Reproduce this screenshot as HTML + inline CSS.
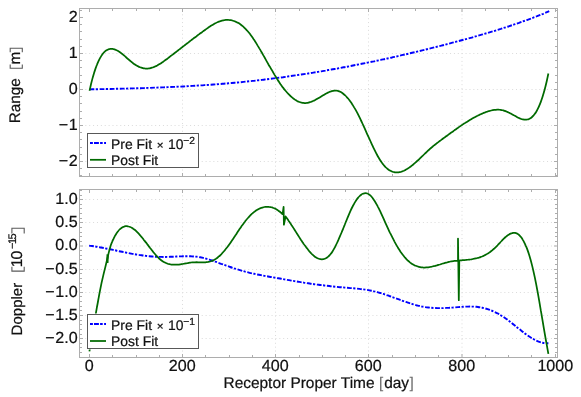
<!DOCTYPE html>
<html><head><meta charset="utf-8"><title>Range / Doppler residuals</title>
<style>
html,body{margin:0;padding:0;background:#fff;}
body{width:581px;height:397px;overflow:hidden;will-change:transform;font-family:"Liberation Sans",sans-serif;}
svg{display:block;font-family:"Liberation Sans",sans-serif;text-rendering:geometricPrecision;-webkit-font-smoothing:antialiased;}
text{text-rendering:geometricPrecision;mix-blend-mode:multiply;stroke:#111;stroke-width:0.22px;}
.grid{stroke:#dbdbdb;stroke-width:1;stroke-dasharray:1 2.88;stroke-dashoffset:-1.95;fill:none;}
.frame{fill:none;stroke:#adadad;stroke-width:1;}
.ticks line{stroke:#adadad;stroke-width:1;}
.g{fill:none;stroke:#006a00;stroke-width:1.75;stroke-linejoin:round;stroke-linecap:butt;}
.b{fill:none;stroke:#0000ff;stroke-width:1.9;stroke-dasharray:4.8 1.45 2.2 1.65;stroke-linecap:butt;}
.tl{font-size:16.1px;fill:#111111;}
.al{font-size:15.5px;fill:#111111;}
.lg{font-size:13.9px;fill:#111111;}
.lbox{fill:#fff;stroke:#585858;stroke-width:1;}
</style></head><body>
<svg width="581" height="397" viewBox="0 0 581 397">
<rect width="581" height="397" fill="#fff"/>
<g id="top">
<line x1="182.50" y1="8.5" x2="182.50" y2="176.5" class="grid"/>
<line x1="275.50" y1="8.5" x2="275.50" y2="176.5" class="grid"/>
<line x1="368.50" y1="8.5" x2="368.50" y2="176.5" class="grid"/>
<line x1="462.00" y1="8.5" x2="462.00" y2="176.5" class="grid"/>
<line x1="79.5" y1="161.50" x2="557.5" y2="161.50" class="grid"/>
<line x1="79.5" y1="125.50" x2="557.5" y2="125.50" class="grid"/>
<line x1="79.5" y1="89.50" x2="557.5" y2="89.50" class="grid"/>
<line x1="79.5" y1="53.50" x2="557.5" y2="53.50" class="grid"/>
<path class="b" d="M89.5 89.4C90.5 89.3 93.5 89.3 95.5 89.2C97.6 89.2 99.6 89.2 101.6 89.1C103.6 89.1 105.6 89.1 107.6 89.0C109.7 89.0 111.7 88.9 113.7 88.9C115.7 88.8 117.7 88.8 119.7 88.7C121.8 88.7 123.8 88.6 125.8 88.6C127.8 88.5 129.8 88.5 131.8 88.4C133.9 88.4 135.9 88.3 137.9 88.3C139.9 88.2 141.9 88.1 143.9 88.1C146.0 88.0 148.0 87.9 150.0 87.9C152.0 87.8 154.0 87.7 156.0 87.6C158.1 87.6 160.1 87.5 162.1 87.4C164.1 87.3 166.1 87.2 168.1 87.1C170.1 87.1 172.2 87.0 174.2 86.9C176.2 86.8 178.2 86.7 180.2 86.6C182.2 86.5 184.3 86.4 186.3 86.3C188.3 86.1 190.3 86.0 192.3 85.9C194.3 85.8 196.4 85.7 198.4 85.5C200.4 85.4 202.4 85.3 204.4 85.1C206.4 85.0 208.5 84.9 210.5 84.7C212.5 84.6 214.5 84.4 216.5 84.3C218.5 84.1 220.6 84.0 222.6 83.8C224.6 83.6 226.6 83.5 228.6 83.3C230.6 83.1 232.7 82.9 234.7 82.7C236.7 82.5 238.7 82.4 240.7 82.2C242.7 82.0 244.7 81.8 246.8 81.5C248.8 81.3 250.8 81.1 252.8 80.9C254.8 80.7 256.8 80.4 258.9 80.2C260.9 80.0 262.9 79.7 264.9 79.5C266.9 79.3 268.9 79.0 271.0 78.8C273.0 78.5 275.0 78.2 277.0 78.0C279.0 77.7 281.0 77.4 283.1 77.2C285.1 76.9 287.1 76.6 289.1 76.3C291.1 76.0 293.1 75.7 295.2 75.4C297.2 75.1 299.2 74.8 301.2 74.5C303.2 74.2 305.2 73.9 307.3 73.6C309.3 73.3 311.3 72.9 313.3 72.6C315.3 72.3 317.3 72.0 319.4 71.6C321.4 71.3 323.4 70.9 325.4 70.6C327.4 70.2 329.4 69.9 331.4 69.5C333.5 69.2 335.5 68.8 337.5 68.5C339.5 68.1 341.5 67.7 343.5 67.3C345.6 67.0 347.6 66.6 349.6 66.2C351.6 65.8 353.6 65.4 355.6 65.0C357.7 64.6 359.7 64.2 361.7 63.8C363.7 63.4 365.7 63.0 367.7 62.6C369.8 62.2 371.8 61.8 373.8 61.4C375.8 60.9 377.8 60.5 379.8 60.1C381.9 59.7 383.9 59.2 385.9 58.8C387.9 58.4 389.9 57.9 391.9 57.5C394.0 57.0 396.0 56.6 398.0 56.1C400.0 55.7 402.0 55.2 404.0 54.7C406.0 54.3 408.1 53.8 410.1 53.3C412.1 52.9 414.1 52.4 416.1 51.9C418.1 51.4 420.2 50.9 422.2 50.4C424.2 49.9 426.2 49.4 428.2 48.9C430.2 48.4 432.3 47.9 434.3 47.4C436.3 46.9 438.3 46.4 440.3 45.9C442.3 45.4 444.4 44.9 446.4 44.3C448.4 43.8 450.4 43.3 452.4 42.7C454.4 42.2 456.5 41.7 458.5 41.1C460.5 40.6 462.5 40.1 464.5 39.5C466.5 39.0 468.6 38.4 470.6 37.8C472.6 37.3 474.6 36.7 476.6 36.1C478.6 35.5 480.6 35.0 482.7 34.4C484.7 33.8 486.7 33.2 488.7 32.6C490.7 32.0 492.7 31.4 494.8 30.8C496.8 30.1 498.8 29.5 500.8 28.9C502.8 28.2 504.8 27.6 506.9 26.9C508.9 26.3 510.9 25.6 512.9 24.9C514.9 24.2 516.9 23.6 519.0 22.9C521.0 22.1 523.0 21.4 525.0 20.7C527.0 20.0 529.0 19.2 531.1 18.5C533.1 17.7 535.1 16.9 537.1 16.2C539.1 15.4 541.1 14.6 543.2 13.8C545.2 12.9 548.2 11.7 549.2 11.2"/>
<path class="g" d="M89.5 90.8C89.8 89.7 90.5 86.3 91.0 84.3C91.5 82.2 92.0 80.3 92.5 78.4C93.0 76.6 93.5 74.9 94.0 73.2C94.5 71.6 95.0 70.1 95.5 68.6C96.0 67.2 96.5 65.8 97.0 64.6C97.5 63.3 98.0 62.2 98.5 61.1C99.0 60.0 99.5 59.0 100.0 58.1C100.5 57.2 101.0 56.4 101.5 55.6C102.0 54.8 102.5 54.2 103.0 53.5C103.5 52.9 104.0 52.4 104.5 51.9C105.0 51.4 105.5 51.0 106.1 50.6C106.6 50.3 107.1 50.0 107.6 49.7C108.1 49.5 108.6 49.3 109.1 49.2C109.6 49.0 110.1 49.0 110.6 48.9C111.1 48.9 111.6 48.9 112.1 48.9C112.6 49.0 113.1 49.0 113.6 49.2C114.1 49.3 114.6 49.4 115.1 49.6C115.6 49.8 116.1 50.0 116.6 50.3C117.1 50.5 117.6 50.8 118.1 51.1C118.6 51.4 119.1 51.7 119.6 52.0C120.1 52.4 120.6 52.7 121.1 53.1C121.6 53.5 122.1 53.9 122.6 54.3C123.1 54.7 123.6 55.1 124.1 55.5C124.6 56.0 125.1 56.4 125.6 56.8C126.1 57.3 126.6 57.7 127.1 58.2C127.6 58.6 128.1 59.1 128.6 59.5C129.1 59.9 129.6 60.4 130.1 60.8C130.6 61.2 131.1 61.6 131.6 62.0C132.1 62.4 132.6 62.8 133.1 63.2C133.6 63.6 134.1 64.0 134.6 64.3C135.1 64.7 135.6 65.0 136.1 65.3C136.6 65.6 137.1 65.9 137.6 66.1C138.1 66.4 138.6 66.6 139.2 66.9C139.7 67.1 140.2 67.3 140.7 67.5C141.2 67.6 141.7 67.8 142.2 67.9C142.7 68.1 143.2 68.2 143.7 68.3C144.2 68.4 144.7 68.4 145.2 68.5C145.7 68.5 146.2 68.6 146.7 68.6C147.2 68.6 147.7 68.5 148.2 68.5C148.7 68.4 149.2 68.4 149.7 68.3C150.2 68.2 150.7 68.1 151.2 67.9C151.7 67.8 152.2 67.6 152.7 67.5C153.2 67.3 153.7 67.1 154.2 66.9C154.7 66.7 155.2 66.5 155.7 66.2C156.2 66.0 156.7 65.7 157.2 65.5C157.7 65.2 158.2 64.9 158.7 64.6C159.2 64.3 159.7 64.0 160.2 63.7C160.7 63.4 161.2 63.1 161.7 62.7C162.2 62.4 162.7 62.0 163.2 61.7C163.7 61.3 164.2 61.0 164.7 60.6C165.2 60.2 165.7 59.9 166.2 59.5C166.7 59.1 167.2 58.7 167.7 58.4C168.2 58.0 168.7 57.6 169.2 57.2C169.7 56.8 170.2 56.4 170.7 56.0C171.2 55.7 171.8 55.3 172.3 54.9C172.8 54.5 173.3 54.1 173.8 53.7C174.3 53.3 174.8 52.9 175.3 52.6C175.8 52.2 176.3 51.8 176.8 51.4C177.3 51.0 177.8 50.6 178.3 50.2C178.8 49.8 179.3 49.5 179.8 49.1C180.3 48.7 180.8 48.3 181.3 47.9C181.8 47.5 182.3 47.1 182.8 46.7C183.3 46.3 183.8 46.0 184.3 45.6C184.8 45.2 185.3 44.8 185.8 44.4C186.3 44.0 186.8 43.6 187.3 43.2C187.8 42.9 188.3 42.5 188.8 42.1C189.3 41.7 189.8 41.3 190.3 40.9C190.8 40.5 191.3 40.2 191.8 39.8C192.3 39.4 192.8 39.0 193.3 38.6C193.8 38.2 194.3 37.9 194.8 37.5C195.3 37.1 195.8 36.7 196.3 36.4C196.8 36.0 197.3 35.6 197.8 35.2C198.3 34.8 198.8 34.5 199.3 34.1C199.8 33.7 200.3 33.4 200.8 33.0C201.3 32.6 201.8 32.2 202.3 31.9C202.8 31.5 203.3 31.2 203.8 30.8C204.4 30.4 204.9 30.1 205.4 29.7C205.9 29.3 206.4 29.0 206.9 28.6C207.4 28.3 207.9 27.9 208.4 27.6C208.9 27.2 209.4 26.9 209.9 26.6C210.4 26.2 210.9 25.9 211.4 25.6C211.9 25.3 212.4 25.0 212.9 24.7C213.4 24.4 213.9 24.1 214.4 23.8C214.9 23.5 215.4 23.2 215.9 23.0C216.4 22.7 216.9 22.5 217.4 22.3C217.9 22.0 218.4 21.8 218.9 21.6C219.4 21.4 219.9 21.2 220.4 21.1C220.9 20.9 221.4 20.7 221.9 20.6C222.4 20.5 222.9 20.4 223.4 20.3C223.9 20.2 224.4 20.1 224.9 20.0C225.4 20.0 225.9 19.9 226.4 19.9C226.9 19.9 227.4 19.9 227.9 19.9C228.4 19.9 228.9 19.9 229.4 20.0C229.9 20.0 230.4 20.1 230.9 20.2C231.4 20.3 231.9 20.4 232.4 20.5C232.9 20.7 233.4 20.8 233.9 21.0C234.4 21.2 234.9 21.4 235.4 21.6C235.9 21.8 236.4 22.0 236.9 22.3C237.5 22.5 238.0 22.8 238.5 23.1C239.0 23.4 239.5 23.7 240.0 24.1C240.5 24.4 241.0 24.8 241.5 25.2C242.0 25.6 242.5 26.0 243.0 26.4C243.5 26.9 244.0 27.3 244.5 27.8C245.0 28.3 245.5 28.8 246.0 29.3C246.5 29.8 247.0 30.4 247.5 31.0C248.0 31.6 248.5 32.2 249.0 32.8C249.5 33.4 250.0 34.0 250.5 34.7C251.0 35.4 251.5 36.1 252.0 36.8C252.5 37.5 253.0 38.2 253.5 39.0C254.0 39.7 254.5 40.5 255.0 41.2C255.5 42.0 256.0 42.8 256.5 43.6C257.0 44.4 257.5 45.2 258.0 46.1C258.5 46.9 259.0 47.7 259.5 48.6C260.0 49.4 260.5 50.3 261.0 51.2C261.5 52.0 262.0 52.9 262.5 53.8C263.0 54.7 263.5 55.6 264.0 56.4C264.5 57.3 265.0 58.2 265.5 59.1C266.0 60.0 266.5 60.9 267.0 61.8C267.5 62.7 268.0 63.6 268.5 64.5C269.0 65.3 269.5 66.2 270.1 67.1C270.6 68.0 271.1 68.9 271.6 69.7C272.1 70.6 272.6 71.5 273.1 72.3C273.6 73.2 274.1 74.0 274.6 74.9C275.1 75.7 275.6 76.5 276.1 77.3C276.6 78.2 277.1 79.0 277.6 79.7C278.1 80.5 278.6 81.3 279.1 82.0C279.6 82.8 280.1 83.5 280.6 84.3C281.1 85.0 281.6 85.7 282.1 86.4C282.6 87.1 283.1 87.7 283.6 88.4C284.1 89.0 284.6 89.7 285.1 90.3C285.6 90.9 286.1 91.5 286.6 92.0C287.1 92.6 287.6 93.2 288.1 93.7C288.6 94.2 289.1 94.7 289.6 95.2C290.1 95.7 290.6 96.2 291.1 96.6C291.6 97.1 292.1 97.5 292.6 97.9C293.1 98.3 293.6 98.7 294.1 99.1C294.6 99.4 295.1 99.8 295.6 100.1C296.1 100.4 296.6 100.7 297.1 101.0C297.6 101.2 298.1 101.5 298.6 101.7C299.1 101.9 299.6 102.1 300.1 102.2C300.6 102.4 301.1 102.6 301.6 102.7C302.1 102.8 302.7 102.9 303.2 102.9C303.7 103.0 304.2 103.0 304.7 103.0C305.2 103.1 305.7 103.0 306.2 103.0C306.7 102.9 307.2 102.9 307.7 102.8C308.2 102.7 308.7 102.6 309.2 102.4C309.7 102.3 310.2 102.1 310.7 102.0C311.2 101.8 311.7 101.6 312.2 101.4C312.7 101.2 313.2 100.9 313.7 100.7C314.2 100.5 314.7 100.2 315.2 100.0C315.7 99.7 316.2 99.4 316.7 99.1C317.2 98.9 317.7 98.6 318.2 98.3C318.7 98.0 319.2 97.7 319.7 97.4C320.2 97.1 320.7 96.8 321.2 96.5C321.7 96.2 322.2 95.9 322.7 95.6C323.2 95.3 323.7 95.0 324.2 94.7C324.7 94.4 325.2 94.1 325.7 93.8C326.2 93.6 326.7 93.3 327.2 93.0C327.7 92.8 328.2 92.5 328.7 92.3C329.2 92.1 329.7 91.8 330.2 91.7C330.7 91.5 331.2 91.3 331.7 91.1C332.2 91.0 332.7 90.9 333.2 90.8C333.7 90.7 334.2 90.6 334.7 90.6C335.2 90.6 335.8 90.6 336.3 90.6C336.8 90.7 337.3 90.8 337.8 90.9C338.3 91.0 338.8 91.2 339.3 91.4C339.8 91.6 340.3 91.8 340.8 92.1C341.3 92.4 341.8 92.7 342.3 93.0C342.8 93.4 343.3 93.8 343.8 94.2C344.3 94.6 344.8 95.0 345.3 95.5C345.8 96.0 346.3 96.5 346.8 97.1C347.3 97.6 347.8 98.2 348.3 98.8C348.8 99.4 349.3 100.1 349.8 100.7C350.3 101.4 350.8 102.1 351.3 102.8C351.8 103.6 352.3 104.3 352.8 105.1C353.3 105.9 353.8 106.7 354.3 107.6C354.8 108.4 355.3 109.3 355.8 110.2C356.3 111.1 356.8 112.0 357.3 112.9C357.8 113.9 358.3 114.9 358.8 115.9C359.3 116.9 359.8 117.9 360.3 118.9C360.8 120.0 361.3 121.0 361.8 122.1C362.3 123.2 362.8 124.3 363.3 125.4C363.8 126.5 364.3 127.6 364.8 128.7C365.3 129.8 365.8 131.0 366.3 132.1C366.8 133.2 367.3 134.3 367.8 135.5C368.4 136.6 368.9 137.7 369.4 138.8C369.9 139.9 370.4 141.1 370.9 142.2C371.4 143.3 371.9 144.3 372.4 145.4C372.9 146.5 373.4 147.6 373.9 148.6C374.4 149.6 374.9 150.6 375.4 151.6C375.9 152.6 376.4 153.6 376.9 154.5C377.4 155.5 377.9 156.4 378.4 157.3C378.9 158.1 379.4 159.0 379.9 159.8C380.4 160.6 380.9 161.4 381.4 162.1C381.9 162.8 382.4 163.5 382.9 164.1C383.4 164.8 383.9 165.4 384.4 165.9C384.9 166.5 385.4 167.0 385.9 167.5C386.4 168.0 386.9 168.4 387.4 168.8C387.9 169.2 388.4 169.6 388.9 169.9C389.4 170.2 389.9 170.5 390.4 170.8C390.9 171.1 391.4 171.3 391.9 171.5C392.4 171.7 392.9 171.8 393.4 172.0C393.9 172.1 394.4 172.2 394.9 172.3C395.4 172.3 395.9 172.4 396.4 172.4C396.9 172.4 397.4 172.4 397.9 172.3C398.4 172.3 398.9 172.2 399.4 172.1C399.9 172.0 400.4 171.9 401.0 171.8C401.5 171.6 402.0 171.5 402.5 171.3C403.0 171.1 403.5 170.9 404.0 170.7C404.5 170.4 405.0 170.2 405.5 169.9C406.0 169.7 406.5 169.4 407.0 169.1C407.5 168.8 408.0 168.4 408.5 168.1C409.0 167.8 409.5 167.4 410.0 167.1C410.5 166.7 411.0 166.3 411.5 165.9C412.0 165.5 412.5 165.1 413.0 164.7C413.5 164.3 414.0 163.9 414.5 163.4C415.0 163.0 415.5 162.6 416.0 162.1C416.5 161.7 417.0 161.2 417.5 160.7C418.0 160.3 418.5 159.8 419.0 159.3C419.5 158.8 420.0 158.4 420.5 157.9C421.0 157.4 421.5 156.9 422.0 156.4C422.5 156.0 423.0 155.5 423.5 155.0C424.0 154.5 424.5 154.0 425.0 153.5C425.5 153.1 426.0 152.6 426.5 152.1C427.0 151.6 427.5 151.2 428.0 150.7C428.5 150.2 429.0 149.8 429.5 149.3C430.0 148.9 430.5 148.4 431.0 148.0C431.5 147.6 432.0 147.1 432.5 146.7C433.0 146.3 433.5 145.9 434.1 145.4C434.6 145.0 435.1 144.6 435.6 144.2C436.1 143.8 436.6 143.4 437.1 143.0C437.6 142.7 438.1 142.3 438.6 141.9C439.1 141.5 439.6 141.1 440.1 140.7C440.6 140.4 441.1 140.0 441.6 139.6C442.1 139.3 442.6 138.9 443.1 138.5C443.6 138.1 444.1 137.8 444.6 137.4C445.1 137.1 445.6 136.7 446.1 136.3C446.6 136.0 447.1 135.6 447.6 135.2C448.1 134.9 448.6 134.5 449.1 134.1C449.6 133.8 450.1 133.4 450.6 133.0C451.1 132.7 451.6 132.3 452.1 132.0C452.6 131.6 453.1 131.2 453.6 130.9C454.1 130.5 454.6 130.2 455.1 129.8C455.6 129.5 456.1 129.1 456.6 128.7C457.1 128.4 457.6 128.0 458.1 127.7C458.6 127.3 459.1 127.0 459.6 126.6C460.1 126.3 460.6 126.0 461.1 125.6C461.6 125.3 462.1 124.9 462.6 124.6C463.1 124.3 463.6 123.9 464.1 123.6C464.6 123.3 465.1 123.0 465.6 122.6C466.1 122.3 466.7 122.0 467.2 121.7C467.7 121.4 468.2 121.0 468.7 120.7C469.2 120.4 469.7 120.1 470.2 119.8C470.7 119.5 471.2 119.2 471.7 118.9C472.2 118.7 472.7 118.4 473.2 118.1C473.7 117.8 474.2 117.5 474.7 117.2C475.2 117.0 475.7 116.7 476.2 116.4C476.7 116.2 477.2 115.9 477.7 115.7C478.2 115.4 478.7 115.2 479.2 114.9C479.7 114.7 480.2 114.5 480.7 114.2C481.2 114.0 481.7 113.8 482.2 113.6C482.7 113.4 483.2 113.1 483.7 112.9C484.2 112.7 484.7 112.5 485.2 112.4C485.7 112.2 486.2 112.0 486.7 111.8C487.2 111.6 487.7 111.5 488.2 111.3C488.7 111.1 489.2 111.0 489.7 110.9C490.2 110.7 490.7 110.6 491.2 110.5C491.7 110.4 492.2 110.3 492.7 110.2C493.2 110.1 493.7 110.0 494.2 109.9C494.7 109.9 495.2 109.8 495.7 109.8C496.2 109.7 496.7 109.7 497.2 109.7C497.7 109.7 498.2 109.7 498.7 109.7C499.3 109.7 499.8 109.8 500.3 109.8C500.8 109.9 501.3 110.0 501.8 110.1C502.3 110.2 502.8 110.3 503.3 110.4C503.8 110.6 504.3 110.7 504.8 110.9C505.3 111.1 505.8 111.2 506.3 111.4C506.8 111.7 507.3 111.9 507.8 112.1C508.3 112.3 508.8 112.6 509.3 112.8C509.8 113.1 510.3 113.3 510.8 113.6C511.3 113.9 511.8 114.1 512.3 114.4C512.8 114.7 513.3 115.0 513.8 115.3C514.3 115.5 514.8 115.8 515.3 116.1C515.8 116.4 516.3 116.7 516.8 116.9C517.3 117.2 517.8 117.5 518.3 117.7C518.8 118.0 519.3 118.2 519.8 118.4C520.3 118.6 520.8 118.8 521.3 119.0C521.8 119.2 522.3 119.3 522.8 119.4C523.3 119.5 523.8 119.6 524.3 119.7C524.8 119.7 525.3 119.7 525.8 119.7C526.3 119.7 526.8 119.6 527.3 119.5C527.8 119.4 528.3 119.3 528.8 119.1C529.3 118.8 529.8 118.6 530.3 118.3C530.8 118.0 531.3 117.6 531.8 117.2C532.4 116.7 532.9 116.2 533.4 115.7C533.9 115.1 534.4 114.5 534.9 113.8C535.4 113.1 535.9 112.3 536.4 111.5C536.9 110.6 537.4 109.7 537.9 108.7C538.4 107.7 538.9 106.6 539.4 105.4C539.9 104.3 540.4 103.0 540.9 101.6C541.4 100.3 541.9 98.8 542.4 97.3C542.9 95.7 543.4 94.1 543.9 92.3C544.4 90.6 544.9 88.7 545.4 86.7C545.9 84.8 546.4 82.7 546.9 80.5C547.4 78.3 548.1 74.7 548.4 73.6"/>
<rect x="79.5" y="8.5" width="478.0" height="168.0" class="frame"/>
<g class="ticks"><line x1="89.50" y1="8.5" x2="89.50" y2="12.0"/>
<line x1="89.50" y1="176.5" x2="89.50" y2="173.0"/>
<line x1="112.50" y1="8.5" x2="112.50" y2="11.0"/>
<line x1="112.50" y1="176.5" x2="112.50" y2="174.0"/>
<line x1="136.50" y1="8.5" x2="136.50" y2="11.0"/>
<line x1="136.50" y1="176.5" x2="136.50" y2="174.0"/>
<line x1="159.50" y1="8.5" x2="159.50" y2="11.0"/>
<line x1="159.50" y1="176.5" x2="159.50" y2="174.0"/>
<line x1="182.50" y1="8.5" x2="182.50" y2="12.0"/>
<line x1="182.50" y1="176.5" x2="182.50" y2="173.0"/>
<line x1="205.50" y1="8.5" x2="205.50" y2="11.0"/>
<line x1="205.50" y1="176.5" x2="205.50" y2="174.0"/>
<line x1="229.50" y1="8.5" x2="229.50" y2="11.0"/>
<line x1="229.50" y1="176.5" x2="229.50" y2="174.0"/>
<line x1="252.50" y1="8.5" x2="252.50" y2="11.0"/>
<line x1="252.50" y1="176.5" x2="252.50" y2="174.0"/>
<line x1="275.50" y1="8.5" x2="275.50" y2="12.0"/>
<line x1="275.50" y1="176.5" x2="275.50" y2="173.0"/>
<line x1="299.50" y1="8.5" x2="299.50" y2="11.0"/>
<line x1="299.50" y1="176.5" x2="299.50" y2="174.0"/>
<line x1="322.50" y1="8.5" x2="322.50" y2="11.0"/>
<line x1="322.50" y1="176.5" x2="322.50" y2="174.0"/>
<line x1="345.50" y1="8.5" x2="345.50" y2="11.0"/>
<line x1="345.50" y1="176.5" x2="345.50" y2="174.0"/>
<line x1="368.50" y1="8.5" x2="368.50" y2="12.0"/>
<line x1="368.50" y1="176.5" x2="368.50" y2="173.0"/>
<line x1="392.50" y1="8.5" x2="392.50" y2="11.0"/>
<line x1="392.50" y1="176.5" x2="392.50" y2="174.0"/>
<line x1="415.50" y1="8.5" x2="415.50" y2="11.0"/>
<line x1="415.50" y1="176.5" x2="415.50" y2="174.0"/>
<line x1="438.50" y1="8.5" x2="438.50" y2="11.0"/>
<line x1="438.50" y1="176.5" x2="438.50" y2="174.0"/>
<line x1="462.00" y1="8.5" x2="462.00" y2="12.0"/>
<line x1="462.00" y1="176.5" x2="462.00" y2="173.0"/>
<line x1="485.50" y1="8.5" x2="485.50" y2="11.0"/>
<line x1="485.50" y1="176.5" x2="485.50" y2="174.0"/>
<line x1="508.50" y1="8.5" x2="508.50" y2="11.0"/>
<line x1="508.50" y1="176.5" x2="508.50" y2="174.0"/>
<line x1="531.50" y1="8.5" x2="531.50" y2="11.0"/>
<line x1="531.50" y1="176.5" x2="531.50" y2="174.0"/>
<line x1="555.50" y1="8.5" x2="555.50" y2="12.0"/>
<line x1="555.50" y1="176.5" x2="555.50" y2="173.0"/>
<line x1="79.5" y1="175.50" x2="82.0" y2="175.50"/>
<line x1="557.5" y1="175.50" x2="555.0" y2="175.50"/>
<line x1="79.5" y1="168.50" x2="82.0" y2="168.50"/>
<line x1="557.5" y1="168.50" x2="555.0" y2="168.50"/>
<line x1="79.5" y1="161.50" x2="83.0" y2="161.50"/>
<line x1="557.5" y1="161.50" x2="554.0" y2="161.50"/>
<line x1="79.5" y1="154.50" x2="82.0" y2="154.50"/>
<line x1="557.5" y1="154.50" x2="555.0" y2="154.50"/>
<line x1="79.5" y1="147.50" x2="82.0" y2="147.50"/>
<line x1="557.5" y1="147.50" x2="555.0" y2="147.50"/>
<line x1="79.5" y1="139.50" x2="82.0" y2="139.50"/>
<line x1="557.5" y1="139.50" x2="555.0" y2="139.50"/>
<line x1="79.5" y1="132.50" x2="82.0" y2="132.50"/>
<line x1="557.5" y1="132.50" x2="555.0" y2="132.50"/>
<line x1="79.5" y1="125.50" x2="83.0" y2="125.50"/>
<line x1="557.5" y1="125.50" x2="554.0" y2="125.50"/>
<line x1="79.5" y1="118.50" x2="82.0" y2="118.50"/>
<line x1="557.5" y1="118.50" x2="555.0" y2="118.50"/>
<line x1="79.5" y1="111.50" x2="82.0" y2="111.50"/>
<line x1="557.5" y1="111.50" x2="555.0" y2="111.50"/>
<line x1="79.5" y1="103.50" x2="82.0" y2="103.50"/>
<line x1="557.5" y1="103.50" x2="555.0" y2="103.50"/>
<line x1="79.5" y1="96.50" x2="82.0" y2="96.50"/>
<line x1="557.5" y1="96.50" x2="555.0" y2="96.50"/>
<line x1="79.5" y1="89.50" x2="83.0" y2="89.50"/>
<line x1="557.5" y1="89.50" x2="554.0" y2="89.50"/>
<line x1="79.5" y1="82.50" x2="82.0" y2="82.50"/>
<line x1="557.5" y1="82.50" x2="555.0" y2="82.50"/>
<line x1="79.5" y1="75.50" x2="82.0" y2="75.50"/>
<line x1="557.5" y1="75.50" x2="555.0" y2="75.50"/>
<line x1="79.5" y1="67.50" x2="82.0" y2="67.50"/>
<line x1="557.5" y1="67.50" x2="555.0" y2="67.50"/>
<line x1="79.5" y1="60.50" x2="82.0" y2="60.50"/>
<line x1="557.5" y1="60.50" x2="555.0" y2="60.50"/>
<line x1="79.5" y1="53.50" x2="83.0" y2="53.50"/>
<line x1="557.5" y1="53.50" x2="554.0" y2="53.50"/>
<line x1="79.5" y1="46.50" x2="82.0" y2="46.50"/>
<line x1="557.5" y1="46.50" x2="555.0" y2="46.50"/>
<line x1="79.5" y1="39.50" x2="82.0" y2="39.50"/>
<line x1="557.5" y1="39.50" x2="555.0" y2="39.50"/>
<line x1="79.5" y1="31.50" x2="82.0" y2="31.50"/>
<line x1="557.5" y1="31.50" x2="555.0" y2="31.50"/>
<line x1="79.5" y1="24.50" x2="82.0" y2="24.50"/>
<line x1="557.5" y1="24.50" x2="555.0" y2="24.50"/>
<line x1="79.5" y1="17.50" x2="83.0" y2="17.50"/>
<line x1="557.5" y1="17.50" x2="554.0" y2="17.50"/>
<line x1="79.5" y1="10.50" x2="82.0" y2="10.50"/>
<line x1="557.5" y1="10.50" x2="555.0" y2="10.50"/></g>
<text class="tl" x="77.6" y="21.9" text-anchor="end">2</text>
<text class="tl" x="77.6" y="57.9" text-anchor="end">1</text>
<text class="tl" x="77.6" y="93.9" text-anchor="end">0</text>
<text class="tl" x="77.6" y="129.9" text-anchor="end">−<tspan dx="0.6">1</tspan></text>
<text class="tl" x="77.6" y="165.9" text-anchor="end">−<tspan dx="0.6">2</tspan></text>
<rect class="lbox" x="87.5" y="133.5" width="111" height="34"/>
<path d="M90 142.9H106" stroke="#0000ff" stroke-width="2" stroke-dasharray="2.9 1.1 4.9 1.2 2.6 1.4 1.9 9" fill="none"/>
<path d="M90 159.8H106" stroke="#006a00" stroke-width="1.75" fill="none"/>
<text class="lg" x="111.1" y="148.5">Pre Fit <tspan font-size="11.6" dx="0.9">×</tspan><tspan dx="0.5"> 10</tspan><tspan dy="-4.8" font-size="10.3">−2</tspan></text>
<text class="lg" x="111.1" y="164.6">Post Fit</text>
<g transform="translate(20.3 122.5) rotate(-90)"><text class="al" style="font-size:15.3px" x="-0.8" y="0">Range<tspan x="58.0">m</tspan></text><path d="M58.0 -10.1H54.2V2.0H58.0M70.3 -10.1H74.2V2.0H70.3" fill="none" stroke="#5a5a5a" stroke-width="1.1"/></g>
</g>
<g id="bottom">
<line x1="182.50" y1="189.5" x2="182.50" y2="357.5" class="grid"/>
<line x1="275.50" y1="189.5" x2="275.50" y2="357.5" class="grid"/>
<line x1="368.50" y1="189.5" x2="368.50" y2="357.5" class="grid"/>
<line x1="462.00" y1="189.5" x2="462.00" y2="357.5" class="grid"/>
<line x1="79.5" y1="338.50" x2="557.5" y2="338.50" class="grid"/>
<line x1="79.5" y1="315.50" x2="557.5" y2="315.50" class="grid"/>
<line x1="79.5" y1="292.50" x2="557.5" y2="292.50" class="grid"/>
<line x1="79.5" y1="269.50" x2="557.5" y2="269.50" class="grid"/>
<line x1="79.5" y1="246.00" x2="557.5" y2="246.00" class="grid"/>
<line x1="79.5" y1="222.50" x2="557.5" y2="222.50" class="grid"/>
<line x1="79.5" y1="199.50" x2="557.5" y2="199.50" class="grid"/>
<path class="b" d="M89.1 245.6C89.6 245.7 91.1 245.9 92.1 246.0C93.1 246.2 94.1 246.3 95.1 246.5C96.1 246.6 97.1 246.8 98.1 247.0C99.1 247.2 100.1 247.3 101.1 247.5C102.1 247.7 103.1 247.9 104.1 248.1C105.1 248.3 106.1 248.5 107.1 248.7C108.1 248.9 109.1 249.1 110.1 249.3C111.1 249.5 112.1 249.7 113.1 249.9C114.1 250.1 115.1 250.3 116.1 250.5C117.1 250.8 118.1 251.0 119.1 251.2C120.1 251.4 121.1 251.6 122.1 251.8C123.1 252.0 124.1 252.2 125.1 252.4C126.1 252.6 127.1 252.8 128.1 253.0C129.1 253.2 130.1 253.4 131.1 253.6C132.1 253.8 133.1 254.0 134.1 254.1C135.1 254.3 136.1 254.5 137.1 254.6C138.1 254.8 139.1 254.9 140.1 255.1C141.1 255.2 142.1 255.4 143.1 255.5C144.1 255.6 145.1 255.8 146.1 255.9C147.1 256.0 148.1 256.1 149.1 256.2C150.1 256.3 151.1 256.4 152.1 256.5C153.1 256.6 154.1 256.6 155.1 256.7C156.1 256.7 157.1 256.8 158.1 256.8C159.1 256.9 160.1 256.9 161.1 256.9C162.1 257.0 163.1 257.0 164.1 257.0C165.1 257.0 166.2 256.9 167.2 256.9C168.2 256.9 169.2 256.9 170.2 256.8C171.2 256.8 172.2 256.7 173.2 256.7C174.2 256.6 175.2 256.6 176.2 256.5C177.2 256.5 178.2 256.4 179.2 256.4C180.2 256.3 181.2 256.3 182.2 256.3C183.2 256.2 184.2 256.2 185.2 256.2C186.2 256.2 187.2 256.2 188.2 256.2C189.2 256.2 190.2 256.2 191.2 256.3C192.2 256.3 193.2 256.4 194.2 256.5C195.2 256.5 196.2 256.7 197.2 256.8C198.2 256.9 199.2 257.1 200.2 257.3C201.2 257.5 202.2 257.7 203.2 257.9C204.2 258.2 205.2 258.4 206.2 258.7C207.2 259.0 208.2 259.3 209.2 259.6C210.2 259.9 211.2 260.2 212.2 260.5C213.2 260.9 214.2 261.2 215.2 261.6C216.2 261.9 217.2 262.3 218.2 262.7C219.2 263.0 220.2 263.4 221.2 263.8C222.2 264.1 223.2 264.5 224.2 264.9C225.2 265.2 226.2 265.6 227.2 265.9C228.2 266.3 229.2 266.7 230.2 267.0C231.2 267.4 232.2 267.7 233.2 268.0C234.2 268.4 235.2 268.7 236.2 269.0C237.2 269.3 238.2 269.6 239.2 269.9C240.2 270.2 241.2 270.5 242.2 270.8C243.2 271.1 244.2 271.4 245.2 271.7C246.2 271.9 247.2 272.2 248.2 272.4C249.2 272.7 250.2 272.9 251.2 273.2C252.2 273.4 253.2 273.6 254.2 273.8C255.2 274.0 256.2 274.3 257.2 274.5C258.2 274.7 259.2 274.9 260.2 275.0C261.2 275.2 262.2 275.4 263.2 275.6C264.2 275.8 265.2 276.0 266.2 276.1C267.2 276.3 268.2 276.5 269.2 276.7C270.2 276.9 271.2 277.0 272.2 277.2C273.2 277.4 274.2 277.6 275.2 277.8C276.2 277.9 277.2 278.1 278.2 278.3C279.2 278.5 280.2 278.7 281.2 278.8C282.2 279.0 283.2 279.2 284.2 279.4C285.2 279.5 286.2 279.7 287.2 279.9C288.2 280.1 289.2 280.3 290.2 280.4C291.2 280.6 292.2 280.8 293.2 280.9C294.2 281.1 295.2 281.3 296.2 281.4C297.2 281.6 298.2 281.8 299.2 281.9C300.2 282.1 301.2 282.3 302.2 282.4C303.2 282.6 304.2 282.7 305.2 282.9C306.2 283.0 307.2 283.2 308.2 283.3C309.2 283.5 310.2 283.6 311.2 283.8C312.2 283.9 313.2 284.1 314.2 284.2C315.2 284.3 316.2 284.5 317.2 284.6C318.2 284.7 319.3 284.9 320.3 285.0C321.3 285.1 322.3 285.2 323.3 285.3C324.3 285.5 325.3 285.6 326.3 285.7C327.3 285.8 328.3 285.9 329.3 286.0C330.3 286.2 331.3 286.3 332.3 286.4C333.3 286.5 334.3 286.6 335.3 286.7C336.3 286.8 337.3 286.9 338.3 287.0C339.3 287.1 340.3 287.2 341.3 287.2C342.3 287.3 343.3 287.4 344.3 287.5C345.3 287.6 346.3 287.7 347.3 287.8C348.3 287.9 349.3 288.0 350.3 288.1C351.3 288.1 352.3 288.2 353.3 288.3C354.3 288.4 355.3 288.5 356.3 288.6C357.3 288.7 358.3 288.8 359.3 288.9C360.3 289.0 361.3 289.1 362.3 289.3C363.3 289.4 364.3 289.5 365.3 289.6C366.3 289.8 367.3 289.9 368.3 290.1C369.3 290.3 370.3 290.5 371.3 290.7C372.3 290.9 373.3 291.1 374.3 291.4C375.3 291.6 376.3 291.9 377.3 292.1C378.3 292.4 379.3 292.7 380.3 293.0C381.3 293.3 382.3 293.6 383.3 293.9C384.3 294.3 385.3 294.6 386.3 294.9C387.3 295.3 388.3 295.6 389.3 296.0C390.3 296.3 391.3 296.7 392.3 297.1C393.3 297.4 394.3 297.8 395.3 298.1C396.3 298.5 397.3 298.9 398.3 299.2C399.3 299.6 400.3 300.0 401.3 300.3C402.3 300.7 403.3 301.0 404.3 301.4C405.3 301.7 406.3 302.1 407.3 302.4C408.3 302.7 409.3 303.1 410.3 303.4C411.3 303.7 412.3 304.0 413.3 304.3C414.3 304.6 415.3 304.9 416.3 305.2C417.3 305.4 418.3 305.7 419.3 305.9C420.3 306.1 421.3 306.4 422.3 306.6C423.3 306.8 424.3 306.9 425.3 307.1C426.3 307.3 427.3 307.4 428.3 307.5C429.3 307.6 430.3 307.7 431.3 307.8C432.3 307.9 433.3 308.0 434.3 308.0C435.3 308.0 436.3 308.1 437.3 308.1C438.3 308.1 439.3 308.1 440.3 308.1C441.3 308.1 442.3 308.1 443.3 308.1C444.3 308.0 445.3 308.0 446.3 307.9C447.3 307.9 448.3 307.8 449.3 307.8C450.3 307.7 451.3 307.6 452.3 307.6C453.3 307.5 454.3 307.4 455.3 307.4C456.3 307.3 457.3 307.2 458.3 307.1C459.3 307.0 460.3 307.0 461.3 306.9C462.3 306.8 463.3 306.8 464.3 306.7C465.3 306.7 466.3 306.6 467.3 306.6C468.3 306.6 469.3 306.5 470.3 306.6C471.3 306.6 472.4 306.6 473.4 306.6C474.4 306.7 475.4 306.7 476.4 306.8C477.4 306.9 478.4 307.1 479.4 307.2C480.4 307.4 481.4 307.6 482.4 307.8C483.4 308.0 484.4 308.2 485.4 308.5C486.4 308.8 487.4 309.1 488.4 309.4C489.4 309.8 490.4 310.1 491.4 310.5C492.4 310.9 493.4 311.4 494.4 311.9C495.4 312.3 496.4 312.8 497.4 313.3C498.4 313.9 499.4 314.4 500.4 315.0C501.4 315.6 502.4 316.3 503.4 316.9C504.4 317.6 505.4 318.3 506.4 319.0C507.4 319.7 508.4 320.5 509.4 321.2C510.4 322.0 511.4 322.8 512.4 323.6C513.4 324.3 514.4 325.2 515.4 325.9C516.4 326.7 517.4 327.6 518.4 328.4C519.4 329.1 520.4 329.9 521.4 330.7C522.4 331.5 523.4 332.3 524.4 333.0C525.4 333.8 526.4 334.5 527.4 335.2C528.4 335.9 529.4 336.6 530.4 337.2C531.4 337.9 532.4 338.5 533.4 339.0C534.4 339.6 535.4 340.1 536.4 340.6C537.4 341.0 538.4 341.5 539.4 341.8C540.4 342.2 541.4 342.5 542.4 342.7C543.4 342.9 544.4 343.1 545.4 343.2C546.4 343.2 547.9 343.2 548.4 343.2"/>
<path class="g" d="M89.4 351.4C89.7 350.0 90.4 345.8 90.9 343.0C91.4 340.1 91.9 337.1 92.4 334.2C92.9 331.2 93.4 328.2 93.9 325.2C94.4 322.2 94.9 319.1 95.4 316.1C95.9 313.2 96.4 310.2 96.9 307.3C97.5 304.4 98.0 301.5 98.5 298.7C99.0 296.0 99.5 293.2 100.0 290.7C100.5 288.1 101.0 285.6 101.5 283.2C102.0 280.9 102.5 278.7 103.0 276.6C103.5 274.4 104.0 272.4 104.5 270.4C105.0 268.3 105.5 266.4 106.0 264.3C106.5 262.2 107.0 260.1 107.5 258.0C108.0 255.9 108.5 253.6 109.0 251.6C109.5 249.6 110.0 247.8 110.5 246.2C111.0 244.6 111.5 243.3 112.0 242.1C112.5 240.8 113.0 239.7 113.6 238.7C114.1 237.6 114.6 236.6 115.1 235.7C115.6 234.8 116.1 234.0 116.6 233.2C117.1 232.5 117.6 231.8 118.1 231.2C118.6 230.5 119.1 230.0 119.6 229.5C120.1 229.0 120.6 228.5 121.1 228.2C121.6 227.8 122.1 227.5 122.6 227.2C123.1 226.9 123.6 226.7 124.1 226.6C124.6 226.4 125.1 226.3 125.6 226.2C126.1 226.2 126.6 226.2 127.1 226.2C127.6 226.3 128.1 226.3 128.6 226.5C129.1 226.6 129.7 226.8 130.2 227.0C130.7 227.2 131.2 227.4 131.7 227.7C132.2 228.0 132.7 228.3 133.2 228.7C133.7 229.0 134.2 229.4 134.7 229.8C135.2 230.2 135.7 230.7 136.2 231.1C136.7 231.6 137.2 232.1 137.7 232.6C138.2 233.1 138.7 233.7 139.2 234.2C139.7 234.8 140.2 235.4 140.7 236.0C141.2 236.6 141.7 237.2 142.2 237.8C142.7 238.4 143.2 239.0 143.7 239.7C144.2 240.3 144.7 241.0 145.2 241.6C145.8 242.3 146.3 242.9 146.8 243.6C147.3 244.3 147.8 244.9 148.3 245.6C148.8 246.3 149.3 246.9 149.8 247.6C150.3 248.2 150.8 248.9 151.3 249.5C151.8 250.2 152.3 250.8 152.8 251.4C153.3 252.1 153.8 252.7 154.3 253.3C154.8 253.9 155.3 254.5 155.8 255.0C156.3 255.6 156.8 256.1 157.3 256.7C157.8 257.2 158.3 257.7 158.8 258.2C159.3 258.6 159.8 259.1 160.3 259.5C160.8 259.9 161.3 260.3 161.9 260.7C162.4 261.1 162.9 261.4 163.4 261.7C163.9 262.0 164.4 262.3 164.9 262.5C165.4 262.8 165.9 263.0 166.4 263.2C166.9 263.4 167.4 263.6 167.9 263.8C168.4 263.9 168.9 264.1 169.4 264.2C169.9 264.3 170.4 264.4 170.9 264.5C171.4 264.5 171.9 264.6 172.4 264.7C172.9 264.7 173.4 264.7 173.9 264.7C174.4 264.7 174.9 264.7 175.4 264.7C175.9 264.7 176.4 264.7 176.9 264.7C177.4 264.6 177.9 264.6 178.5 264.5C179.0 264.5 179.5 264.4 180.0 264.3C180.5 264.3 181.0 264.2 181.5 264.1C182.0 264.0 182.5 263.9 183.0 263.9C183.5 263.8 184.0 263.7 184.5 263.6C185.0 263.5 185.5 263.4 186.0 263.3C186.5 263.2 187.0 263.1 187.5 263.1C188.0 263.0 188.5 262.9 189.0 262.8C189.5 262.7 190.0 262.7 190.5 262.6C191.0 262.5 191.5 262.5 192.0 262.4C192.5 262.4 193.0 262.3 193.5 262.3C194.1 262.3 194.6 262.3 195.1 262.3C195.6 262.2 196.1 262.2 196.6 262.2C197.1 262.3 197.6 262.3 198.1 262.3C198.6 262.3 199.1 262.3 199.6 262.3C200.1 262.3 200.6 262.3 201.1 262.4C201.6 262.4 202.1 262.4 202.6 262.4C203.1 262.4 203.6 262.4 204.1 262.3C204.6 262.3 205.1 262.3 205.6 262.3C206.1 262.2 206.6 262.2 207.1 262.1C207.6 262.0 208.1 262.0 208.6 261.9C209.1 261.8 209.6 261.6 210.2 261.5C210.7 261.4 211.2 261.2 211.7 261.0C212.2 260.8 212.7 260.6 213.2 260.4C213.7 260.1 214.2 259.9 214.7 259.6C215.2 259.3 215.7 259.0 216.2 258.6C216.7 258.3 217.2 257.9 217.7 257.5C218.2 257.1 218.7 256.7 219.2 256.2C219.7 255.8 220.2 255.3 220.7 254.8C221.2 254.3 221.7 253.8 222.2 253.2C222.7 252.7 223.2 252.1 223.7 251.5C224.2 251.0 224.7 250.4 225.2 249.7C225.7 249.1 226.2 248.5 226.8 247.8C227.3 247.2 227.8 246.5 228.3 245.8C228.8 245.1 229.3 244.4 229.8 243.7C230.3 243.0 230.8 242.3 231.3 241.5C231.8 240.8 232.3 240.1 232.8 239.3C233.3 238.6 233.8 237.8 234.3 237.1C234.8 236.3 235.3 235.5 235.8 234.8C236.3 234.0 236.8 233.3 237.3 232.5C237.8 231.7 238.3 231.0 238.8 230.2C239.3 229.5 239.8 228.7 240.3 228.0C240.8 227.3 241.3 226.5 241.8 225.8C242.4 225.1 242.9 224.4 243.4 223.7C243.9 223.0 244.4 222.3 244.9 221.7C245.4 221.0 245.9 220.4 246.4 219.8C246.9 219.1 247.4 218.5 247.9 218.0C248.4 217.4 248.9 216.8 249.4 216.3C249.9 215.8 250.4 215.2 250.9 214.8C251.4 214.3 251.9 213.8 252.4 213.4C252.9 212.9 253.4 212.5 253.9 212.1C254.4 211.7 254.9 211.3 255.4 211.0C255.9 210.6 256.4 210.3 256.9 210.0C257.4 209.7 257.9 209.4 258.5 209.1C259.0 208.9 259.5 208.6 260.0 208.4C260.5 208.2 261.0 208.0 261.5 207.8C262.0 207.7 262.5 207.5 263.0 207.4C263.5 207.2 264.0 207.1 264.5 207.0C265.0 206.9 265.5 206.9 266.0 206.8C266.5 206.8 267.0 206.8 267.5 206.8C268.0 206.8 268.5 206.8 269.0 206.9C269.5 206.9 270.0 207.0 270.5 207.1C271.0 207.2 271.5 207.3 272.0 207.4C272.5 207.6 273.0 207.8 273.5 208.0C274.0 208.1 274.6 208.4 275.1 208.6C275.6 208.9 276.1 209.1 276.6 209.4C277.1 209.7 277.6 210.0 278.1 210.4C278.6 210.7 279.1 211.1 279.6 211.5C280.1 211.9 280.6 212.3 281.1 212.8C281.6 213.2 282.3 214.0 282.6 214.2L283.6 206.9L283.9 224.7L285.6 216.4C285.9 216.8 286.6 217.8 287.1 218.5C287.6 219.2 288.1 219.9 288.6 220.7C289.1 221.4 289.6 222.2 290.1 222.9C290.6 223.7 291.1 224.4 291.6 225.2C292.2 226.0 292.7 226.8 293.2 227.6C293.7 228.4 294.2 229.2 294.7 230.0C295.2 230.8 295.7 231.6 296.2 232.4C296.7 233.2 297.2 234.0 297.7 234.7C298.2 235.5 298.7 236.3 299.2 237.1C299.7 237.9 300.2 238.7 300.7 239.5C301.2 240.2 301.7 241.0 302.2 241.7C302.7 242.5 303.2 243.2 303.7 244.0C304.3 244.7 304.8 245.4 305.3 246.1C305.8 246.8 306.3 247.5 306.8 248.1C307.3 248.8 307.8 249.4 308.3 250.0C308.8 250.7 309.3 251.3 309.8 251.8C310.3 252.4 310.8 252.9 311.3 253.5C311.8 254.0 312.3 254.5 312.8 254.9C313.3 255.4 313.8 255.8 314.3 256.2C314.8 256.6 315.3 257.0 315.8 257.3C316.3 257.6 316.9 257.9 317.4 258.2C317.9 258.4 318.4 258.6 318.9 258.8C319.4 259.0 319.9 259.1 320.4 259.2C320.9 259.3 321.4 259.3 321.9 259.3C322.4 259.3 322.9 259.3 323.4 259.2C323.9 259.1 324.4 258.9 324.9 258.7C325.4 258.5 325.9 258.3 326.4 258.0C326.9 257.6 327.4 257.3 327.9 256.9C328.4 256.4 329.0 256.0 329.5 255.4C330.0 254.9 330.5 254.3 331.0 253.6C331.5 253.0 332.0 252.3 332.5 251.5C333.0 250.7 333.5 249.8 334.0 248.9C334.5 248.0 335.0 247.1 335.5 246.1C336.0 245.1 336.5 244.1 337.0 243.0C337.5 241.9 338.0 240.8 338.5 239.7C339.0 238.5 339.5 237.3 340.0 236.1C340.5 235.0 341.1 233.7 341.6 232.5C342.1 231.3 342.6 230.0 343.1 228.8C343.6 227.6 344.1 226.3 344.6 225.1C345.1 223.8 345.6 222.6 346.1 221.3C346.6 220.1 347.1 218.9 347.6 217.7C348.1 216.5 348.6 215.3 349.1 214.1C349.6 213.0 350.1 211.8 350.6 210.7C351.1 209.6 351.6 208.5 352.1 207.5C352.6 206.5 353.1 205.5 353.7 204.6C354.2 203.6 354.7 202.7 355.2 201.9C355.7 201.1 356.2 200.3 356.7 199.6C357.2 198.9 357.7 198.2 358.2 197.6C358.7 197.0 359.2 196.5 359.7 196.0C360.2 195.5 360.7 195.1 361.2 194.7C361.7 194.3 362.2 194.0 362.7 193.8C363.2 193.6 363.7 193.4 364.2 193.3C364.7 193.2 365.2 193.2 365.8 193.2C366.3 193.2 366.8 193.3 367.3 193.5C367.8 193.7 368.3 193.9 368.8 194.3C369.3 194.6 369.8 195.0 370.3 195.4C370.8 195.9 371.3 196.4 371.8 197.0C372.3 197.6 372.8 198.3 373.3 199.0C373.8 199.7 374.3 200.5 374.8 201.3C375.3 202.1 375.8 202.9 376.3 203.8C376.8 204.7 377.3 205.7 377.8 206.6C378.4 207.6 378.9 208.6 379.4 209.6C379.9 210.7 380.4 211.7 380.9 212.8C381.4 213.9 381.9 215.0 382.4 216.1C382.9 217.2 383.4 218.3 383.9 219.4C384.4 220.5 384.9 221.7 385.4 222.8C385.9 223.9 386.4 225.0 386.9 226.1C387.4 227.2 387.9 228.3 388.4 229.4C388.9 230.5 389.4 231.6 389.9 232.6C390.5 233.7 391.0 234.7 391.5 235.7C392.0 236.7 392.5 237.7 393.0 238.7C393.5 239.7 394.0 240.6 394.5 241.6C395.0 242.5 395.5 243.4 396.0 244.3C396.5 245.2 397.0 246.1 397.5 246.9C398.0 247.7 398.5 248.6 399.0 249.3C399.5 250.1 400.0 250.9 400.5 251.7C401.0 252.4 401.5 253.1 402.0 253.8C402.5 254.5 403.1 255.2 403.6 255.8C404.1 256.4 404.6 257.1 405.1 257.6C405.6 258.2 406.1 258.8 406.6 259.3C407.1 259.8 407.6 260.3 408.1 260.8C408.6 261.2 409.1 261.7 409.6 262.1C410.1 262.5 410.6 262.9 411.1 263.2C411.6 263.6 412.1 263.9 412.6 264.2C413.1 264.5 413.6 264.8 414.1 265.1C414.6 265.3 415.2 265.6 415.7 265.8C416.2 266.0 416.7 266.2 417.2 266.3C417.7 266.5 418.2 266.7 418.7 266.8C419.2 266.9 419.7 267.0 420.2 267.1C420.7 267.2 421.2 267.3 421.7 267.3C422.2 267.4 422.7 267.4 423.2 267.5C423.7 267.5 424.2 267.5 424.7 267.5C425.2 267.5 425.7 267.5 426.2 267.4C426.7 267.4 427.3 267.4 427.8 267.3C428.3 267.3 428.8 267.2 429.3 267.1C429.8 267.0 430.3 267.0 430.8 266.9C431.3 266.8 431.8 266.7 432.3 266.5C432.8 266.4 433.3 266.3 433.8 266.2C434.3 266.1 434.8 265.9 435.3 265.8C435.8 265.7 436.3 265.5 436.8 265.4C437.3 265.2 437.8 265.1 438.3 264.9C438.8 264.8 439.3 264.6 439.9 264.5C440.4 264.3 440.9 264.2 441.4 264.0C441.9 263.9 442.4 263.7 442.9 263.5C443.4 263.4 443.9 263.2 444.4 263.1C444.9 262.9 445.4 262.8 445.9 262.7C446.4 262.5 446.9 262.4 447.4 262.3C447.9 262.1 448.4 262.0 448.9 261.9C449.4 261.8 449.9 261.7 450.4 261.5C450.9 261.4 451.4 261.4 452.0 261.3C452.5 261.2 453.0 261.1 453.5 261.0C454.0 261.0 454.5 260.9 455.0 260.9C455.5 260.8 456.0 260.8 456.5 260.8C457.0 260.8 457.7 260.8 458.0 260.8L458.0 238.5L458.8 300.2L459.3 260.5C459.6 260.5 460.3 260.4 460.8 260.4C461.3 260.3 461.8 260.3 462.3 260.2C462.8 260.2 463.3 260.1 463.8 260.1C464.3 260.1 464.8 260.0 465.3 260.0C465.8 259.9 466.3 259.9 466.9 259.8C467.4 259.8 467.9 259.7 468.4 259.7C468.9 259.6 469.4 259.5 469.9 259.5C470.4 259.4 470.9 259.3 471.4 259.3C471.9 259.2 472.4 259.1 472.9 259.0C473.4 258.9 473.9 258.8 474.4 258.7C474.9 258.6 475.4 258.5 475.9 258.4C476.4 258.3 476.9 258.2 477.4 258.0C477.9 257.9 478.4 257.7 478.9 257.6C479.4 257.4 479.9 257.3 480.4 257.1C480.9 256.9 481.4 256.7 482.0 256.5C482.5 256.3 483.0 256.1 483.5 255.9C484.0 255.6 484.5 255.4 485.0 255.1C485.5 254.9 486.0 254.6 486.5 254.3C487.0 254.1 487.5 253.8 488.0 253.4C488.5 253.1 489.0 252.8 489.5 252.4C490.0 252.1 490.5 251.7 491.0 251.3C491.5 250.9 492.0 250.5 492.5 250.1C493.0 249.7 493.5 249.2 494.0 248.8C494.5 248.3 495.0 247.8 495.5 247.3C496.0 246.8 496.6 246.3 497.1 245.8C497.6 245.3 498.1 244.7 498.6 244.2C499.1 243.7 499.6 243.1 500.1 242.6C500.6 242.0 501.1 241.5 501.6 241.0C502.1 240.5 502.6 239.9 503.1 239.4C503.6 238.9 504.1 238.4 504.6 237.9C505.1 237.5 505.6 237.0 506.1 236.6C506.6 236.2 507.1 235.8 507.6 235.4C508.1 235.0 508.6 234.7 509.1 234.4C509.6 234.1 510.1 233.8 510.6 233.6C511.1 233.4 511.7 233.2 512.2 233.1C512.7 232.9 513.2 232.9 513.7 232.8C514.2 232.8 514.7 232.8 515.2 232.9C515.7 233.0 516.2 233.2 516.7 233.4C517.2 233.6 517.7 233.9 518.2 234.3C518.7 234.6 519.2 235.1 519.7 235.6C520.2 236.1 520.7 236.7 521.2 237.3C521.7 238.0 522.2 238.7 522.7 239.6C523.2 240.4 523.7 241.3 524.2 242.3C524.7 243.3 525.2 244.4 525.7 245.6C526.3 246.8 526.8 248.0 527.3 249.4C527.8 250.8 528.3 252.2 528.8 253.8C529.3 255.3 529.8 257.0 530.3 258.8C530.8 260.5 531.3 262.4 531.8 264.4C532.3 266.3 532.8 268.4 533.3 270.6C533.8 272.8 534.3 275.0 534.8 277.4C535.3 279.8 535.8 282.3 536.3 284.8C536.8 287.4 537.3 290.1 537.8 292.8C538.3 295.6 538.8 298.4 539.3 301.4C539.8 304.3 540.3 307.4 540.8 310.4C541.4 313.5 541.9 316.6 542.4 319.6C542.9 322.7 543.4 325.8 543.9 328.7C544.4 331.7 544.9 334.6 545.4 337.4C545.9 340.2 546.4 342.8 546.9 345.6C547.4 348.3 548.1 352.5 548.4 353.9"/>
<path d="M107.7 254.4L107.3 263.0" stroke="#006a00" stroke-width="2.3" fill="none"/>
<rect x="79.5" y="189.5" width="478.0" height="168.0" class="frame"/>
<g class="ticks"><line x1="89.50" y1="189.5" x2="89.50" y2="193.0"/>
<line x1="89.50" y1="357.5" x2="89.50" y2="354.0"/>
<line x1="112.50" y1="189.5" x2="112.50" y2="192.0"/>
<line x1="112.50" y1="357.5" x2="112.50" y2="355.0"/>
<line x1="136.50" y1="189.5" x2="136.50" y2="192.0"/>
<line x1="136.50" y1="357.5" x2="136.50" y2="355.0"/>
<line x1="159.50" y1="189.5" x2="159.50" y2="192.0"/>
<line x1="159.50" y1="357.5" x2="159.50" y2="355.0"/>
<line x1="182.50" y1="189.5" x2="182.50" y2="193.0"/>
<line x1="182.50" y1="357.5" x2="182.50" y2="354.0"/>
<line x1="205.50" y1="189.5" x2="205.50" y2="192.0"/>
<line x1="205.50" y1="357.5" x2="205.50" y2="355.0"/>
<line x1="229.50" y1="189.5" x2="229.50" y2="192.0"/>
<line x1="229.50" y1="357.5" x2="229.50" y2="355.0"/>
<line x1="252.50" y1="189.5" x2="252.50" y2="192.0"/>
<line x1="252.50" y1="357.5" x2="252.50" y2="355.0"/>
<line x1="275.50" y1="189.5" x2="275.50" y2="193.0"/>
<line x1="275.50" y1="357.5" x2="275.50" y2="354.0"/>
<line x1="299.50" y1="189.5" x2="299.50" y2="192.0"/>
<line x1="299.50" y1="357.5" x2="299.50" y2="355.0"/>
<line x1="322.50" y1="189.5" x2="322.50" y2="192.0"/>
<line x1="322.50" y1="357.5" x2="322.50" y2="355.0"/>
<line x1="345.50" y1="189.5" x2="345.50" y2="192.0"/>
<line x1="345.50" y1="357.5" x2="345.50" y2="355.0"/>
<line x1="368.50" y1="189.5" x2="368.50" y2="193.0"/>
<line x1="368.50" y1="357.5" x2="368.50" y2="354.0"/>
<line x1="392.50" y1="189.5" x2="392.50" y2="192.0"/>
<line x1="392.50" y1="357.5" x2="392.50" y2="355.0"/>
<line x1="415.50" y1="189.5" x2="415.50" y2="192.0"/>
<line x1="415.50" y1="357.5" x2="415.50" y2="355.0"/>
<line x1="438.50" y1="189.5" x2="438.50" y2="192.0"/>
<line x1="438.50" y1="357.5" x2="438.50" y2="355.0"/>
<line x1="462.00" y1="189.5" x2="462.00" y2="193.0"/>
<line x1="462.00" y1="357.5" x2="462.00" y2="354.0"/>
<line x1="485.50" y1="189.5" x2="485.50" y2="192.0"/>
<line x1="485.50" y1="357.5" x2="485.50" y2="355.0"/>
<line x1="508.50" y1="189.5" x2="508.50" y2="192.0"/>
<line x1="508.50" y1="357.5" x2="508.50" y2="355.0"/>
<line x1="531.50" y1="189.5" x2="531.50" y2="192.0"/>
<line x1="531.50" y1="357.5" x2="531.50" y2="355.0"/>
<line x1="555.50" y1="189.5" x2="555.50" y2="193.0"/>
<line x1="555.50" y1="357.5" x2="555.50" y2="354.0"/>
<line x1="79.5" y1="357.50" x2="82.0" y2="357.50"/>
<line x1="557.5" y1="357.50" x2="555.0" y2="357.50"/>
<line x1="79.5" y1="352.50" x2="82.0" y2="352.50"/>
<line x1="557.5" y1="352.50" x2="555.0" y2="352.50"/>
<line x1="79.5" y1="347.50" x2="82.0" y2="347.50"/>
<line x1="557.5" y1="347.50" x2="555.0" y2="347.50"/>
<line x1="79.5" y1="343.50" x2="82.0" y2="343.50"/>
<line x1="557.5" y1="343.50" x2="555.0" y2="343.50"/>
<line x1="79.5" y1="338.50" x2="83.0" y2="338.50"/>
<line x1="557.5" y1="338.50" x2="554.0" y2="338.50"/>
<line x1="79.5" y1="334.50" x2="82.0" y2="334.50"/>
<line x1="557.5" y1="334.50" x2="555.0" y2="334.50"/>
<line x1="79.5" y1="329.50" x2="82.0" y2="329.50"/>
<line x1="557.5" y1="329.50" x2="555.0" y2="329.50"/>
<line x1="79.5" y1="324.50" x2="82.0" y2="324.50"/>
<line x1="557.5" y1="324.50" x2="555.0" y2="324.50"/>
<line x1="79.5" y1="320.50" x2="82.0" y2="320.50"/>
<line x1="557.5" y1="320.50" x2="555.0" y2="320.50"/>
<line x1="79.5" y1="315.50" x2="83.0" y2="315.50"/>
<line x1="557.5" y1="315.50" x2="554.0" y2="315.50"/>
<line x1="79.5" y1="310.50" x2="82.0" y2="310.50"/>
<line x1="557.5" y1="310.50" x2="555.0" y2="310.50"/>
<line x1="79.5" y1="306.50" x2="82.0" y2="306.50"/>
<line x1="557.5" y1="306.50" x2="555.0" y2="306.50"/>
<line x1="79.5" y1="301.50" x2="82.0" y2="301.50"/>
<line x1="557.5" y1="301.50" x2="555.0" y2="301.50"/>
<line x1="79.5" y1="296.50" x2="82.0" y2="296.50"/>
<line x1="557.5" y1="296.50" x2="555.0" y2="296.50"/>
<line x1="79.5" y1="292.50" x2="83.0" y2="292.50"/>
<line x1="557.5" y1="292.50" x2="554.0" y2="292.50"/>
<line x1="79.5" y1="287.50" x2="82.0" y2="287.50"/>
<line x1="557.5" y1="287.50" x2="555.0" y2="287.50"/>
<line x1="79.5" y1="283.50" x2="82.0" y2="283.50"/>
<line x1="557.5" y1="283.50" x2="555.0" y2="283.50"/>
<line x1="79.5" y1="278.50" x2="82.0" y2="278.50"/>
<line x1="557.5" y1="278.50" x2="555.0" y2="278.50"/>
<line x1="79.5" y1="273.50" x2="82.0" y2="273.50"/>
<line x1="557.5" y1="273.50" x2="555.0" y2="273.50"/>
<line x1="79.5" y1="269.50" x2="83.0" y2="269.50"/>
<line x1="557.5" y1="269.50" x2="554.0" y2="269.50"/>
<line x1="79.5" y1="264.50" x2="82.0" y2="264.50"/>
<line x1="557.5" y1="264.50" x2="555.0" y2="264.50"/>
<line x1="79.5" y1="259.50" x2="82.0" y2="259.50"/>
<line x1="557.5" y1="259.50" x2="555.0" y2="259.50"/>
<line x1="79.5" y1="255.50" x2="82.0" y2="255.50"/>
<line x1="557.5" y1="255.50" x2="555.0" y2="255.50"/>
<line x1="79.5" y1="250.50" x2="82.0" y2="250.50"/>
<line x1="557.5" y1="250.50" x2="555.0" y2="250.50"/>
<line x1="79.5" y1="246.00" x2="83.0" y2="246.00"/>
<line x1="557.5" y1="246.00" x2="554.0" y2="246.00"/>
<line x1="79.5" y1="241.50" x2="82.0" y2="241.50"/>
<line x1="557.5" y1="241.50" x2="555.0" y2="241.50"/>
<line x1="79.5" y1="236.50" x2="82.0" y2="236.50"/>
<line x1="557.5" y1="236.50" x2="555.0" y2="236.50"/>
<line x1="79.5" y1="232.50" x2="82.0" y2="232.50"/>
<line x1="557.5" y1="232.50" x2="555.0" y2="232.50"/>
<line x1="79.5" y1="227.50" x2="82.0" y2="227.50"/>
<line x1="557.5" y1="227.50" x2="555.0" y2="227.50"/>
<line x1="79.5" y1="222.50" x2="83.0" y2="222.50"/>
<line x1="557.5" y1="222.50" x2="554.0" y2="222.50"/>
<line x1="79.5" y1="218.50" x2="82.0" y2="218.50"/>
<line x1="557.5" y1="218.50" x2="555.0" y2="218.50"/>
<line x1="79.5" y1="213.50" x2="82.0" y2="213.50"/>
<line x1="557.5" y1="213.50" x2="555.0" y2="213.50"/>
<line x1="79.5" y1="208.50" x2="82.0" y2="208.50"/>
<line x1="557.5" y1="208.50" x2="555.0" y2="208.50"/>
<line x1="79.5" y1="204.50" x2="82.0" y2="204.50"/>
<line x1="557.5" y1="204.50" x2="555.0" y2="204.50"/>
<line x1="79.5" y1="199.50" x2="83.0" y2="199.50"/>
<line x1="557.5" y1="199.50" x2="554.0" y2="199.50"/>
<line x1="79.5" y1="195.50" x2="82.0" y2="195.50"/>
<line x1="557.5" y1="195.50" x2="555.0" y2="195.50"/>
<line x1="79.5" y1="190.50" x2="82.0" y2="190.50"/>
<line x1="557.5" y1="190.50" x2="555.0" y2="190.50"/></g>
<text class="tl" x="77.6" y="204.1" text-anchor="end">1.0</text>
<text class="tl" x="77.6" y="227.2" text-anchor="end">0.5</text>
<text class="tl" x="77.6" y="250.4" text-anchor="end">0.0</text>
<text class="tl" x="77.6" y="273.6" text-anchor="end">−<tspan dx="0.6">0.5</tspan></text>
<text class="tl" x="77.6" y="296.7" text-anchor="end">−<tspan dx="0.6">1.0</tspan></text>
<text class="tl" x="77.6" y="319.9" text-anchor="end">−<tspan dx="0.6">1.5</tspan></text>
<text class="tl" x="77.6" y="343.1" text-anchor="end">−<tspan dx="0.6">2.0</tspan></text>
<text class="tl" x="89.3" y="371.3" text-anchor="middle">0</text>
<text class="tl" x="182.3" y="371.3" text-anchor="middle">200</text>
<text class="tl" x="275.3" y="371.3" text-anchor="middle">400</text>
<text class="tl" x="368.3" y="371.3" text-anchor="middle">600</text>
<text class="tl" x="461.8" y="371.3" text-anchor="middle">800</text>
<text class="tl" x="555.3" y="371.3" text-anchor="middle">1000</text>
<rect x="86.5" y="313.5" width="113" height="36" fill="#fff"/>
<rect class="lbox" x="87.5" y="314.5" width="111" height="34"/>
<path d="M90 324H106" stroke="#0000ff" stroke-width="2" stroke-dasharray="2.9 1.1 4.9 1.2 2.6 1.4 1.9 9" fill="none"/>
<path d="M90 341H106" stroke="#006a00" stroke-width="1.75" fill="none"/>
<text class="lg" x="111.1" y="329.6">Pre Fit <tspan font-size="11.6" dx="0.9">×</tspan><tspan dx="0.5"> 10</tspan><tspan dy="-4.8" font-size="10.3">−1</tspan></text>
<text class="lg" x="111.1" y="345.8">Post Fit</text>
<g transform="translate(22.1 334.5) rotate(-90)"><text class="al" style="font-size:15.0px" x="-0.9" y="0">Doppler<tspan x="67.2" font-size="15.5">1</tspan><tspan x="75.0" font-size="15.8">0</tspan><tspan x="85.5" y="-6.4" font-size="11">−</tspan><tspan x="90.4" y="-6.4" font-size="11">1</tspan><tspan x="95.0" y="-6.4" font-size="11">5</tspan></text><path d="M67.7 -10.2H63.4V2.1H67.7M101.1 -10.2H106.2V2.1H101.1" fill="none" stroke="#5a5a5a" stroke-width="1.1"/></g>
<text class="al" style="font-size:15.45px" x="223.5" y="387.8">Receptor Proper Time <tspan dx="0.2" fill="#6a6a6a" stroke="none">[</tspan><tspan dx="0.9">day</tspan><tspan dx="0.4" fill="#6a6a6a" stroke="none">]</tspan></text>
</g>
</svg></body></html>
